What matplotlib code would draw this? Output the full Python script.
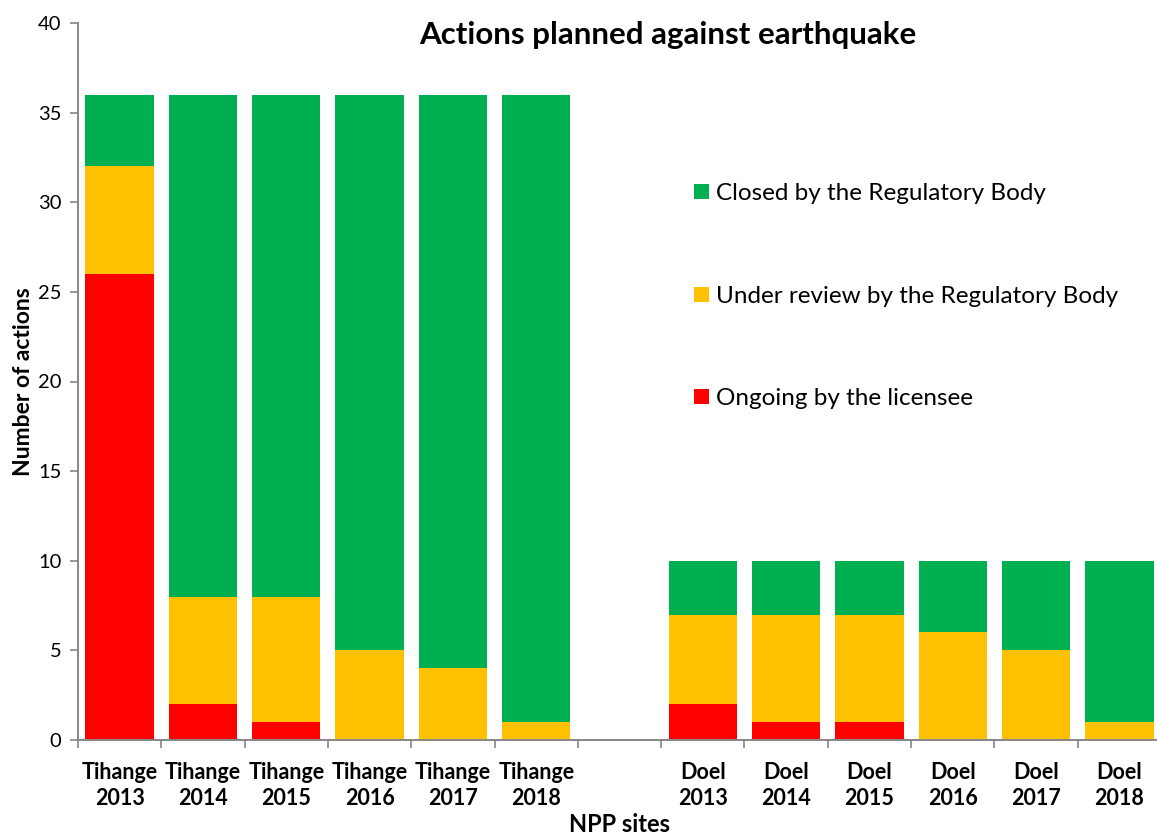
import matplotlib
matplotlib.use('Agg')
import matplotlib.pyplot as plt
import numpy as np

plt.rcParams['font.family'] = ['Lato', 'DejaVu Sans']

# Bar labels, an empty slot separates the two sites
labels = ['Tihange\n2013', 'Tihange\n2014', 'Tihange\n2015', 'Tihange\n2016', 'Tihange\n2017', 'Tihange\n2018',
          '',
          'Doel\n2013', 'Doel\n2014', 'Doel\n2015', 'Doel\n2016', 'Doel\n2017', 'Doel\n2018']
ongoing = [26, 2, 1, 0, 0, 0, 0, 2, 1, 1, 0, 0, 0]
review = [6, 6, 7, 5, 4, 1, 0, 5, 6, 6, 6, 5, 1]
closed = [4, 28, 28, 31, 32, 35, 0, 3, 3, 3, 4, 5, 9]

c_red = '#FF0000'
c_yellow = '#FFC000'
c_green = '#00B050'
c_axis = '#868686'

x = np.arange(len(labels))
ongoing = np.array(ongoing)
review = np.array(review)
closed = np.array(closed)

fig = plt.figure(figsize=(11.57, 8.35), dpi=100)
ax = fig.add_axes([78 / 1157, 95 / 835, 1083 / 1157, 717 / 835])

w = 0.82
b1 = ax.bar(x, ongoing, w, color=c_red, label='Ongoing by the licensee')
b2 = ax.bar(x, review, w, bottom=ongoing, color=c_yellow, label='Under review by the Regulatory Body')
b3 = ax.bar(x, closed, w, bottom=ongoing + review, color=c_green, label='Closed by the Regulatory Body')

ax.set_xlim(-0.5, len(labels) - 0.5)
ax.set_ylim(0, 40)
ax.set_yticks(range(0, 41, 5))

ax.set_xticks(x)
ax.set_xticklabels(labels, fontsize=15.5, fontweight='bold', linespacing=1.3)
ax.set_xticks(np.arange(-0.5, len(labels), 1), minor=True)
ax.tick_params(axis='x', which='major', length=0, pad=16)
ax.tick_params(axis='x', which='minor', length=6, color=c_axis, width=1.2)
ax.tick_params(axis='y', length=6, color=c_axis, width=1.2, labelsize=14.5, pad=6)

for s in ['top', 'right']:
    ax.spines[s].set_visible(False)
for s in ['left', 'bottom']:
    ax.spines[s].set_color(c_axis)
    ax.spines[s].set_linewidth(1.4)

ax.set_ylabel('Number of actions', fontsize=16.5, fontweight='bold', labelpad=3)
ax.set_xlabel('NPP sites', fontsize=17, fontweight='bold', labelpad=3)
fig.text(668 / 1157, 1 - 35 / 835, 'Actions planned against earthquake', fontsize=22.5,
         fontweight='bold', ha='center', va='center')

ax.legend(handles=[b3, b2, b1], loc='upper left', bbox_to_anchor=(0.549, 0.807),
          frameon=False, fontsize=17.5, handlelength=0.58, handleheight=0.58,
          handletextpad=0.3, labelspacing=3.35)

fig.savefig('out.png', dpi=100)
